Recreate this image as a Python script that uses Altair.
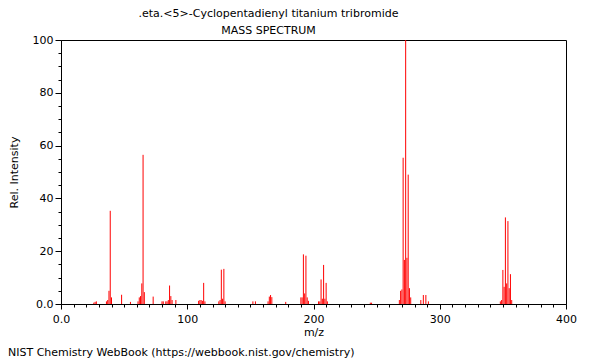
import altair as alt
import pandas as pd

mz = [26, 27, 28, 36, 37, 38, 39, 40, 48, 55, 61, 62, 63, 64, 65, 66, 73,
      80, 81, 83, 84, 85, 86, 87, 88, 91, 109, 110, 111, 112, 113, 114,
      125, 126, 127, 128, 129, 130, 152, 154, 164, 165, 166, 167, 178,
      190, 191, 192, 193, 194, 195, 196, 204, 205, 206, 207, 208, 209, 210, 211,
      245, 246, 268, 269, 270, 271, 272, 273, 274, 275, 276, 277,
      285, 287, 289, 291, 348, 349, 350, 351, 352, 353, 354, 355, 356, 357]
intensity = [0.5, 0.8, 1.0, 1.0, 1.5, 5.0, 35.3, 2.5, 3.5, 0.8, 1.0, 2.5, 3.0, 7.8, 56.5, 4.5, 2.8,
             1.0, 1.0, 1.0, 1.0, 1.5, 7.0, 3.0, 1.5, 1.5, 1.2, 1.5, 1.5, 1.2, 8.0, 1.0,
             1.0, 1.5, 13.0, 2.0, 13.3, 1.0, 1.0, 1.0, 1.0, 2.8, 3.4, 2.6, 0.8,
             2.5, 2.5, 18.8, 4.0, 18.3, 2.5, 1.2, 1.0, 1.0, 9.3, 2.0, 14.8, 2.0, 8.0, 1.0,
             0.5, 0.5, 1.5, 5.0, 5.5, 55.4, 16.7, 100.0, 17.5, 49.0, 6.0, 2.5,
             1.5, 3.4, 3.4, 1.0, 1.0, 1.5, 12.9, 6.5, 32.8, 7.8, 31.4, 6.0, 11.3, 1.5]

x_ticks = list(range(0, 401, 10))
y_ticks = list(range(0, 101, 5))

title_lines = [".eta.<5>-Cyclopentadienyl titanium tribromide", "MASS SPECTRUM"]
credit = ["NIST Chemistry WebBook (https://webbook.nist.gov/chemistry)"]

df = pd.DataFrame({"mz": mz, "intensity": intensity})
FONT = "DejaVu Sans"

x_axis = alt.Axis(
    values=x_ticks,
    labelExpr="datum.value % 100 === 0 ? (datum.value === 0 ? '0.0' : datum.label) : ''",
    tickSize={"condition": {"test": "datum.value % 100 === 0", "value": 5}, "value": 3},
    labelFlush=False,
    grid=False, domainColor="black", tickColor="black", labelColor="black",
    labelFont=FONT, labelFontSize=11, titleFont=FONT, titleFontSize=11,
    titleFontWeight="normal", titleColor="black", labelPadding=4, titlePadding=2,
)
y_axis = alt.Axis(
    values=y_ticks,
    labelExpr="datum.value % 20 === 0 ? (datum.value === 0 ? '0.0' : datum.label) : ''",
    tickSize={"condition": {"test": "datum.value % 20 === 0", "value": 6}, "value": 3},
    labelFlush=False,
    grid=False, domainColor="black", tickColor="black", labelColor="black",
    labelFont=FONT, labelFontSize=11, titleFont=FONT, titleFontSize=11,
    titleFontWeight="normal", titleColor="black", labelPadding=2, titlePadding=13,
)

peaks = alt.Chart(df).mark_rule(color="#ff0000", strokeWidth=1).encode(
    x=alt.X("mz:Q", title="m/z", scale=alt.Scale(domain=[0, 400], nice=False), axis=x_axis),
    y=alt.Y("intensity:Q", title="Rel. Intensity", scale=alt.Scale(domain=[0, 100], nice=False), axis=y_axis),
    y2=alt.datum(0),
)

credit_text = alt.Chart(pd.DataFrame({"t": credit})).mark_text(
    align="left", baseline="middle", font=FONT, fontSize=11, color="black"
).encode(text="t:N", x=alt.value(-53), y=alt.value(313))

chart = alt.layer(peaks, credit_text).properties(
    width=505, height=264,
    title=alt.TitleParams(text=title_lines, fontSize=11, font=FONT, fontWeight="normal",
                          color="black", lineHeight=17, anchor="middle", dx=-45, offset=-2),
    autosize=alt.AutoSizeParams(type="none"),
    padding={"left": 53, "top": 32, "right": 26, "bottom": 56},
).configure_view(stroke="black", strokeWidth=1)

chart.save("out.html", embed_options={"renderer": "svg", "actions": False})
